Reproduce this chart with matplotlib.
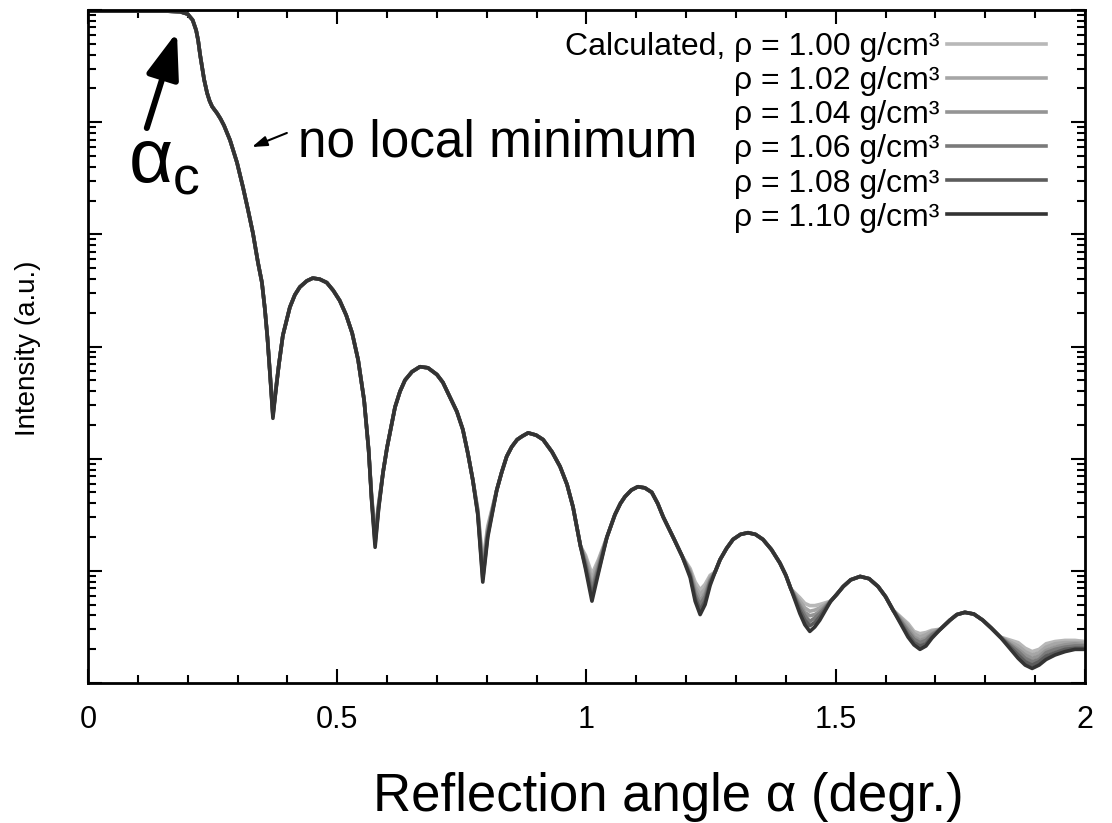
import numpy as np
import matplotlib.pyplot as plt
from matplotlib.ticker import LogLocator, NullFormatter, MultipleLocator

plt.rcParams['font.family'] = ['Liberation Sans', 'DejaVu Sans']
plt.rcParams['mathtext.fontset'] = 'custom'
plt.rcParams['mathtext.rm'] = 'Liberation Sans'
plt.rcParams['mathtext.it'] = 'Liberation Sans:italic'

densities = ['1.00', '1.02', '1.04', '1.06', '1.08', '1.10']
colors = ['#b8b8b8', '#a6a6a6', '#949494', '#7a7a7a', '#5c5c5c', '#333333']

# log10(intensity) where all six curves lie on top of each other
common_x = [0.00, 0.10, 0.16, 0.185, 0.200, 0.210, 0.217, 0.221, 0.225, 0.229, 0.233, 0.239,
            0.244, 0.249, 0.254, 0.259, 0.266, 0.273, 0.285, 0.299, 0.311, 0.321, 0.331,
            0.341, 0.349, 0.355, 0.360,
            0.383, 0.391, 0.405, 0.415, 0.425, 0.439, 0.451, 0.465, 0.479, 0.492, 0.505,
            0.518, 0.530, 0.542, 0.554, 0.563,
            0.592, 0.600, 0.616, 0.626, 0.636, 0.650, 0.666, 0.682, 0.700, 0.712, 0.726,
            0.740, 0.752, 0.762, 0.772,
            0.820, 0.830, 0.840, 0.850, 0.861, 0.871, 0.883, 0.899, 0.913, 0.931, 0.947,
            0.961, 0.973, 0.988,
            1.041, 1.049, 1.057, 1.068, 1.077, 1.090, 1.103, 1.117, 1.131, 1.143, 1.154,
            1.165, 1.176, 1.192,
            1.258, 1.268, 1.281, 1.294, 1.309, 1.324, 1.339, 1.354, 1.371, 1.388, 1.400, 1.410,
            1.490, 1.502, 1.515, 1.530, 1.549, 1.567, 1.585, 1.600, 1.615,
            1.710, 1.729, 1.743, 1.759, 1.777, 1.795, 1.812, 1.830]
common_log = [-0.01, -0.01, -0.01, -0.015, -0.036, -0.089, -0.18, -0.27, -0.40, -0.51, -0.62, -0.74,
              -0.81, -0.86, -0.89, -0.92, -0.97, -1.03, -1.16, -1.36, -1.58, -1.78, -1.99,
              -2.25, -2.43, -2.67, -2.92,
              -3.16, -2.90, -2.65, -2.54, -2.47, -2.415, -2.39, -2.40, -2.43, -2.50, -2.59,
              -2.72, -2.88, -3.12, -3.48, -3.92,
              -4.12, -3.90, -3.54, -3.40, -3.30, -3.225, -3.18, -3.19, -3.25, -3.32, -3.45,
              -3.58, -3.74, -3.95, -4.19,
              -4.28, -4.12, -3.98, -3.895, -3.83, -3.80, -3.77, -3.79, -3.83, -3.94, -4.07,
              -4.23, -4.43, -4.78,
              -4.70, -4.60, -4.50, -4.40, -4.34, -4.28, -4.25, -4.26, -4.30, -4.40, -4.52,
              -4.62, -4.72, -4.87,
              -5.01, -4.90, -4.80, -4.72, -4.675, -4.66, -4.675, -4.72, -4.81, -4.93, -5.04, -5.16,
              -5.27, -5.21, -5.14, -5.08, -5.05, -5.07, -5.14, -5.23, -5.35,
              -5.52, -5.44, -5.39, -5.37, -5.385, -5.44, -5.51, -5.59]

# fringe minima and tail, where the curves separate
spread_x = [0.366, 0.371, 0.376,
            0.569, 0.576, 0.583,
            0.782, 0.792, 0.802,
            0.998, 1.011, 1.024,
            1.208, 1.218, 1.228, 1.238, 1.248,
            1.428, 1.438, 1.448, 1.458, 1.468,
            1.645, 1.657, 1.669, 1.681, 1.693,
            1.866, 1.880, 1.894, 1.908, 1.922,
            1.94, 1.96, 1.98, 2.0]
spread_log = {
    '1.00': [-3.28, -3.57, -3.40, -4.33, -4.65, -4.40, -4.45, -4.93, -4.60,
             -4.86, -5.03, -4.90, -4.98, -5.10, -5.17, -5.12, -5.04,
             -5.24, -5.29, -5.31, -5.31, -5.30, -5.47, -5.54, -5.56, -5.55, -5.53,
             -5.64, -5.69, -5.72, -5.70, -5.65, -5.63, -5.62, -5.62, -5.63],
    '1.02': [-3.28, -3.58, -3.41, -4.34, -4.68, -4.41, -4.46, -4.96, -4.62,
             -4.88, -5.08, -4.92, -5.00, -5.14, -5.21, -5.16, -5.06,
             -5.27, -5.33, -5.36, -5.35, -5.33, -5.49, -5.56, -5.59, -5.57, -5.54,
             -5.67, -5.72, -5.75, -5.73, -5.68, -5.65, -5.64, -5.64, -5.64],
    '1.04': [-3.29, -3.60, -3.41, -4.35, -4.71, -4.42, -4.47, -5.00, -4.64,
             -4.91, -5.13, -4.95, -5.01, -5.17, -5.26, -5.20, -5.08,
             -5.30, -5.37, -5.40, -5.39, -5.36, -5.52, -5.59, -5.62, -5.60, -5.56,
             -5.70, -5.75, -5.78, -5.76, -5.71, -5.68, -5.66, -5.65, -5.66],
    '1.06': [-3.29, -3.61, -3.42, -4.35, -4.73, -4.43, -4.48, -5.03, -4.66,
             -4.93, -5.17, -4.97, -5.03, -5.21, -5.30, -5.23, -5.09,
             -5.32, -5.40, -5.45, -5.42, -5.38, -5.54, -5.61, -5.64, -5.62, -5.57,
             -5.72, -5.78, -5.81, -5.79, -5.73, -5.70, -5.68, -5.67, -5.67],
    '1.08': [-3.30, -3.62, -3.42, -4.36, -4.76, -4.44, -4.49, -5.07, -4.68,
             -4.96, -5.22, -5.00, -5.04, -5.24, -5.35, -5.27, -5.11,
             -5.35, -5.44, -5.49, -5.46, -5.41, -5.57, -5.64, -5.67, -5.65, -5.59,
             -5.75, -5.81, -5.84, -5.81, -5.76, -5.73, -5.70, -5.69, -5.69],
    '1.10': [-3.30, -3.64, -3.43, -4.37, -4.79, -4.45, -4.50, -5.10, -4.70,
             -4.98, -5.27, -5.02, -5.06, -5.27, -5.39, -5.30, -5.13,
             -5.38, -5.48, -5.54, -5.50, -5.44, -5.59, -5.66, -5.70, -5.67, -5.60,
             -5.78, -5.84, -5.87, -5.84, -5.79, -5.75, -5.72, -5.70, -5.70],
}

fig = plt.figure(figsize=(11.12, 8.23), dpi=100)
ax = fig.add_axes([0.0791, 0.1701, 0.8966, 0.8177])

for i, (d, c) in enumerate(zip(densities, colors)):
    x = np.array(common_x + spread_x)
    y = np.array(common_log + spread_log[d])
    order = np.argsort(x)
    if i == 0:
        label = f'Calculated, ρ = {d} g/cm³'
    else:
        label = f'ρ = {d} g/cm³'
    ax.plot(x[order], 10.0 ** y[order], color=c, lw=2.6, label=label,
            solid_joinstyle='round')

ax.set_yscale('log')
ax.set_xlim(0, 2)
ax.set_ylim(1e-6, 1)
ax.yaxis.set_major_locator(LogLocator(base=10, numticks=20))
ax.yaxis.set_minor_locator(LogLocator(base=10, subs=np.arange(2, 10), numticks=20))
ax.yaxis.set_major_formatter(NullFormatter())
ax.yaxis.set_minor_formatter(NullFormatter())

ax.set_xticks([0, 0.5, 1, 1.5, 2])
ax.set_xticklabels(['0', '0.5', '1', '1.5', '2'])
ax.xaxis.set_minor_locator(MultipleLocator(0.1))

ax.tick_params(which='both', direction='in', top=True, right=True, width=1.5)
ax.tick_params(which='major', length=10)
ax.tick_params(which='minor', length=5.5)
ax.tick_params(axis='x', labelsize=22, pad=16)
for s in ax.spines.values():
    s.set_linewidth(2)

ax.set_ylabel('Intensity (a.u.)', fontsize=20)
ax.yaxis.set_label_coords(-0.047, 0.498)
ax.set_xlabel('Reflection angle α (degr.)', fontsize=38)
ax.xaxis.set_label_coords(0.582, -0.132)

ax.legend(loc='upper right', bbox_to_anchor=(0.961, 0.9675), frameon=False,
          markerfirst=False, fontsize=23, handlelength=3.1, handletextpad=0.25,
          labelspacing=0.13, borderpad=0, borderaxespad=0)

ax.annotate('', xy=(0.1785, 10 ** -0.196), xytext=(0.118, 10 ** -1.052),
            arrowprops=dict(arrowstyle='-|>,head_length=1.4,head_width=0.5',
                            lw=4.3, color='black', mutation_scale=20,
                            shrinkA=0, shrinkB=0))
ax.text(0.0802, 10 ** -1.542, r'$\mathrm{\alpha}_\mathrm{c}$', fontsize=55,
        ha='left', va='baseline')

ax.annotate('', xy=(0.329, 10 ** -1.221), xytext=(0.399, 10 ** -1.096),
            arrowprops=dict(arrowstyle='-|>,head_length=0.9,head_width=0.3',
                            lw=1.5, color='black', mutation_scale=10,
                            shrinkA=0, shrinkB=0))
ax.text(0.421, 10 ** -1.310, 'no local minimum', fontsize=37, ha='left', va='baseline')

fig.savefig('out.png', dpi=100)
